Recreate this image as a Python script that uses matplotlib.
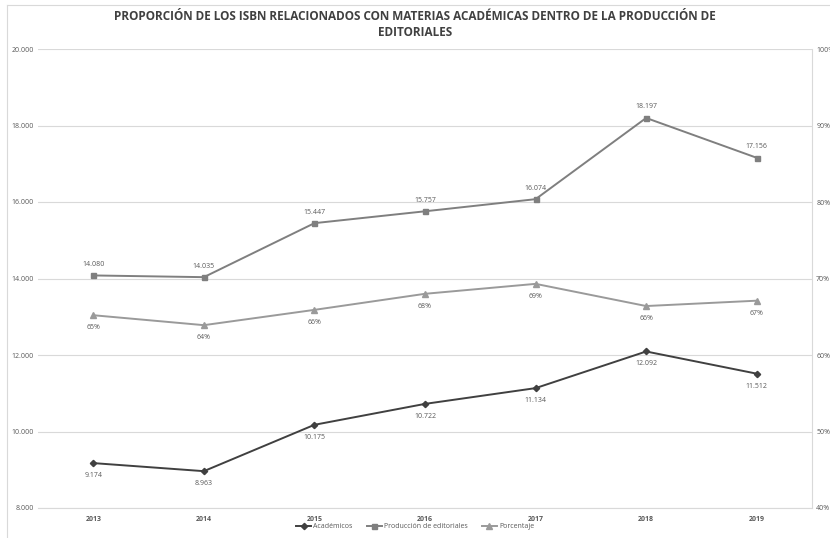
import numpy as np
import matplotlib.pyplot as plt
from matplotlib.ticker import FuncFormatter

years = ["2013", "2014", "2015", "2016", "2017", "2018", "2019"]
academicos = [9174, 8963, 10175, 10722, 11134, 12092, 11512]
produccion = [14080, 14035, 15447, 15757, 16074, 18197, 17156]
porcentaje = [65.2, 63.9, 65.9, 68.0, 69.3, 66.4, 67.1]

plt.rcParams['font.family'] = ['Open Sans', 'DejaVu Sans']

c_acad = '#404040'
c_prod = '#7f7f7f'
c_pct = '#9a9a9a'
c_txt = '#595959'

def miles(v, pos=None):
    return f"{int(round(v)):,}".replace(",", ".")

fig = plt.figure(figsize=(8.3, 5.38), dpi=100)
ax = fig.add_axes([38 / 830, 30 / 538, 774 / 830, 459 / 538])
ax2 = ax.twinx()

x = np.arange(len(years))
l1, = ax.plot(x, academicos, color=c_acad, lw=1.4, marker='D', ms=3.2, label='Académicos')
l2, = ax.plot(x, produccion, color=c_prod, lw=1.4, marker='s', ms=3.6, label='Producción de editoriales')
l3, = ax2.plot(x, porcentaje, color=c_pct, lw=1.4, marker='^', ms=3.8, label='Porcentaje')

for i in range(len(x)):
    ax.annotate(miles(academicos[i]), (x[i], academicos[i]), xytext=(0, -9), textcoords='offset points',
                ha='center', va='center', fontsize=5, color=c_txt)
    ax.annotate(miles(produccion[i]), (x[i], produccion[i]), xytext=(0, 8), textcoords='offset points',
                ha='center', va='center', fontsize=5, color=c_txt)
    ax2.annotate(f"{porcentaje[i]:.0f}%", (x[i], porcentaje[i]), xytext=(0, -9), textcoords='offset points',
                 ha='center', va='center', fontsize=5, color=c_txt)

ax.set_xlim(-0.5, len(years) - 0.5)
ax.set_ylim(8000, 20000)
ax.set_yticks(np.arange(8000, 20001, 2000))
ax.yaxis.set_major_formatter(FuncFormatter(miles))
ax2.set_ylim(40, 100)
ax2.set_yticks(np.arange(40, 101, 10))
ax2.yaxis.set_major_formatter(FuncFormatter(lambda v, p: f"{v:.0f}%"))
ax.set_xticks(x)
ax.set_xticklabels(years, fontweight='bold')

ax.grid(axis='y', color='#d9d9d9', lw=0.8)
ax.set_axisbelow(True)
for a in (ax, ax2):
    for s in a.spines.values():
        s.set_visible(False)
    a.tick_params(length=0, labelsize=5, labelcolor=c_txt)
ax.spines['bottom'].set_visible(True)
ax.spines['bottom'].set_color('#d9d9d9')
ax2.spines['right'].set_visible(True)
ax2.spines['right'].set_color('#d9d9d9')
ax.tick_params(axis='y', pad=3)
ax.tick_params(axis='x', pad=6)
ax2.tick_params(axis='y', pad=3)

fig.text(0.5, 1 - 25 / 538, "PROPORCIÓN DE LOS ISBN RELACIONADOS CON MATERIAS ACADÉMICAS DENTRO DE LA PRODUCCIÓN DE\nEDITORIALES",
         ha='center', va='center', fontsize=8.5, fontweight='bold', color='#404040', linespacing=1.3)

fig.legend(handles=[l1, l2, l3], loc='center', bbox_to_anchor=(0.5, 1 - 527 / 538), ncol=3,
           frameon=False, fontsize=5, labelcolor=c_txt, handlelength=2.2, columnspacing=2, handletextpad=0.3)

fig.add_artist(plt.Line2D([7 / 830, 7 / 830], [0, 1 - 5 / 538], color='#d9d9d9', lw=0.8))
fig.add_artist(plt.Line2D([7 / 830, 1], [1 - 5 / 538, 1 - 5 / 538], color='#d9d9d9', lw=0.8))

fig.savefig('out.png', dpi=100)
